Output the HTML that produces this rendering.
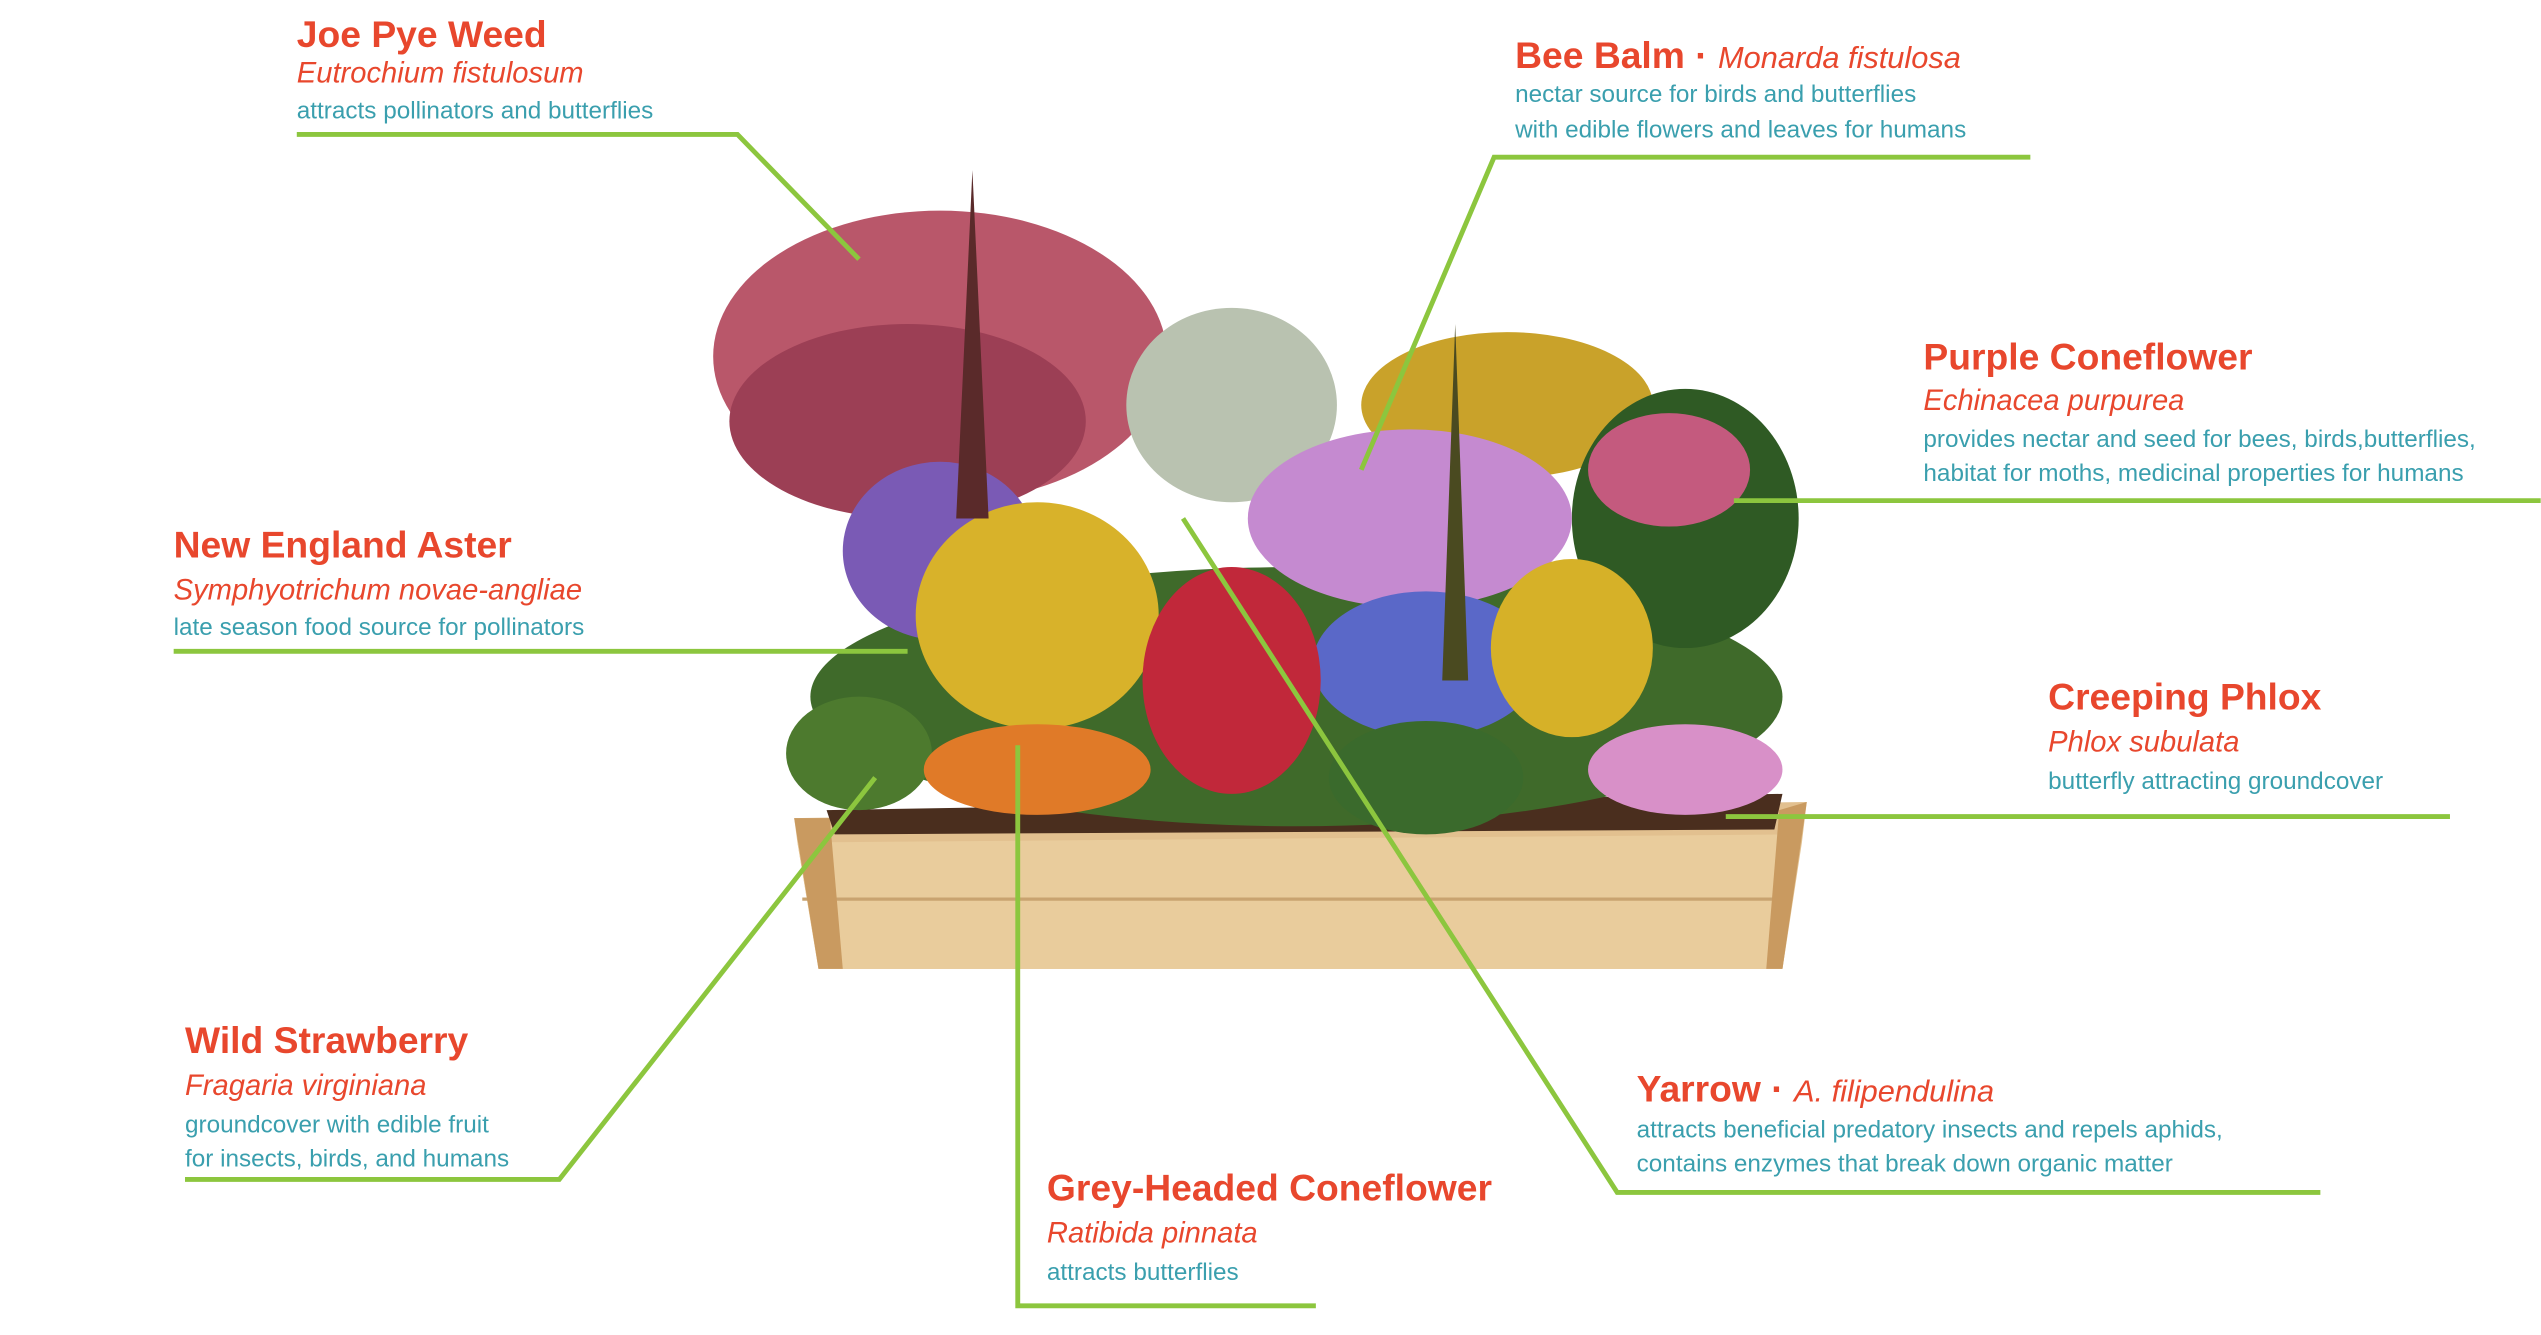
<!DOCTYPE html>
<html><head><meta charset="utf-8"><style>
html,body{margin:0;padding:0;background:#fff;}
svg{display:block}
.t{font-family:"Liberation Sans",sans-serif;font-size:23px;fill:#e8472d;font-weight:bold}
.i{font-family:"Liberation Sans",sans-serif;font-size:18px;fill:#e8472d;font-style:italic;font-weight:normal}
.d{font-family:"Liberation Sans",sans-serif;font-size:15px;fill:#3a9fae}
.l{fill:none;stroke:#8cc63e;stroke-width:3}
</style></head><body>
<svg width="2541" height="1335" viewBox="0 0 1568 824" xmlns="http://www.w3.org/2000/svg">
<polygon points="490,505 1115,495 1112,520 1100,598 505,598 492,520" fill="#e2c08f"/>
<polygon points="492,520 1112,515 1100,598 505,598" fill="#e9cc9c"/>
<line x1="495" y1="555" x2="1106" y2="555" stroke="#c9a370" stroke-width="2"/>
<polygon points="490,505 505,598 520,598 512,505" fill="#c99a60"/>
<polygon points="1115,495 1100,598 1090,598 1098,500" fill="#c99a60"/>
<polygon points="510,500 1100,490 1095,512 515,515" fill="#4a2e1e"/>
<g>
<ellipse cx="800" cy="430" rx="300" ry="80" fill="#3f6a2a"/>
<ellipse cx="580" cy="220" rx="140" ry="90" fill="#b9576a"/>
<ellipse cx="560" cy="260" rx="110" ry="60" fill="#9c3f55"/>
<ellipse cx="760" cy="250" rx="65" ry="60" fill="#b9c2b0"/>
<ellipse cx="930" cy="250" rx="90" ry="45" fill="#c9a22a"/>
<ellipse cx="1040" cy="320" rx="70" ry="80" fill="#2f5a24"/>
<ellipse cx="1030" cy="290" rx="50" ry="35" fill="#c45a7e"/>
<ellipse cx="580" cy="340" rx="60" ry="55" fill="#7a5ab5"/>
<ellipse cx="640" cy="380" rx="75" ry="70" fill="#d8b22a"/>
<ellipse cx="870" cy="320" rx="100" ry="55" fill="#c58ad0"/>
<ellipse cx="880" cy="410" rx="70" ry="45" fill="#5a68c8"/>
<ellipse cx="760" cy="420" rx="55" ry="70" fill="#c1283a"/>
<ellipse cx="970" cy="400" rx="50" ry="55" fill="#d6b128"/>
<ellipse cx="1040" cy="475" rx="60" ry="28" fill="#d890c8"/>
<ellipse cx="530" cy="465" rx="45" ry="35" fill="#4d7a2e"/>
<ellipse cx="640" cy="475" rx="70" ry="28" fill="#e07a28"/>
<ellipse cx="880" cy="480" rx="60" ry="35" fill="#3a6a2c"/>
<polygon points="600,105 590,320 610,320" fill="#5a2a2a"/>
<polygon points="898,200 890,420 906,420" fill="#4a4a20"/>
</g>
<polyline class="l" points="183,83 455,83 530,160"/>
<polyline class="l" points="1253,97 922,97 840,290"/>
<polyline class="l" points="1568,309 1070,309"/>
<polyline class="l" points="107,402 560,402"/>
<polyline class="l" points="1512,504 1065,504"/>
<polyline class="l" points="114,728 345,728 540,480"/>
<polyline class="l" points="812,806 628,806 628,460"/>
<polyline class="l" points="1432,736 998,736 730,320"/>
<text class="t" x="183" y="29">Joe Pye Weed</text>
<text class="i" x="183" y="51">Eutrochium fistulosum</text>
<text class="d" x="183" y="73">attracts pollinators and butterflies</text>

<text class="t" x="935" y="42">Bee Balm · <tspan class="i" style="font-size:19px">Monarda fistulosa</tspan></text>
<text class="d" x="935" y="63">nectar source for birds and butterflies</text>
<text class="d" x="935" y="85">with edible flowers and leaves for humans</text>

<text class="t" x="1187" y="228">Purple Coneflower</text>
<text class="i" x="1187" y="253">Echinacea purpurea</text>
<text class="d" x="1187" y="276">provides nectar and seed for bees, birds,butterflies,</text>
<text class="d" x="1187" y="297">habitat for moths, medicinal properties for humans</text>

<text class="t" x="107" y="344">New England Aster</text>
<text class="i" x="107" y="370">Symphyotrichum novae-angliae</text>
<text class="d" x="107" y="392">late season food source for pollinators</text>

<text class="t" x="1264" y="438">Creeping Phlox</text>
<text class="i" x="1264" y="464">Phlox subulata</text>
<text class="d" x="1264" y="487">butterfly attracting groundcover</text>

<text class="t" x="114" y="650">Wild Strawberry</text>
<text class="i" x="114" y="676">Fragaria virginiana</text>
<text class="d" x="114" y="699">groundcover with edible fruit</text>
<text class="d" x="114" y="720">for insects, birds, and humans</text>

<text class="t" x="1010" y="680">Yarrow · <tspan class="i" style="font-size:19px">A. filipendulina</tspan></text>
<text class="d" x="1010" y="702">attracts beneficial predatory insects and repels aphids,</text>
<text class="d" x="1010" y="723">contains enzymes that break down organic matter</text>

<text class="t" x="646" y="741">Grey-Headed Coneflower</text>
<text class="i" x="646" y="767">Ratibida pinnata</text>
<text class="d" x="646" y="790">attracts butterflies</text>
</svg>
</body></html>
